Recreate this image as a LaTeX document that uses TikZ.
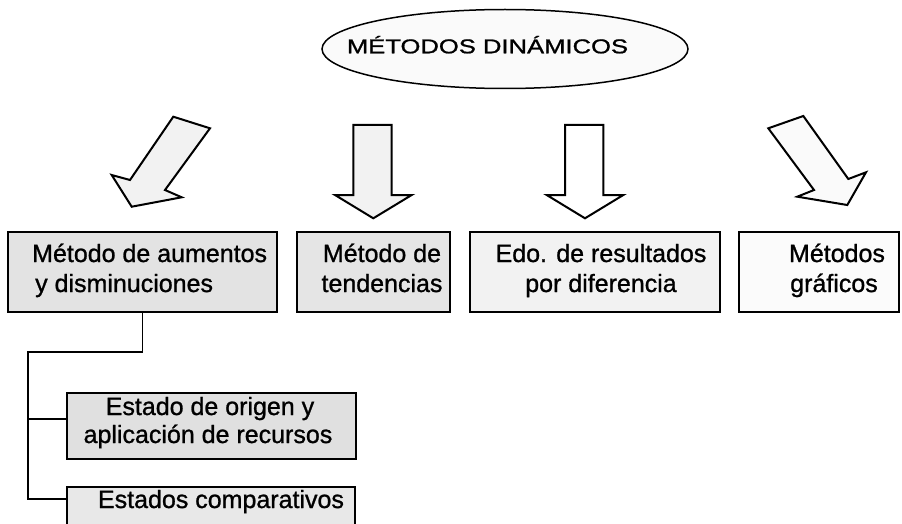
\documentclass[tikz,border=0pt]{standalone}
\usepackage{fontspec}
\setmainfont{Liberation Sans}[FakeBold=1]
\newfontfamily\heavyfont{Liberation Sans}[FakeBold=1]
\usetikzlibrary{shapes.geometric}
\begin{document}
\begin{tikzpicture}[x=1pt,y=-1pt,
  box/.style={draw, line width=1.8pt, rectangle, inner sep=0pt},
  txt/.style={font=\heavyfont\fontsize{25}{30}\selectfont, inner sep=0pt, anchor=base},
  conn/.style={line width=1.8pt, line join=miter},
  barrow/.style={draw, line width=2pt, line join=miter}]
\useasboundingbox (0,0) rectangle (902,524);
\clip (0,0) rectangle (902,524);
% title
\node[draw, ellipse, line width=1.5pt, fill=gray!4, minimum width=366pt, minimum height=79pt, inner sep=0pt] (ell) at (505,49) {};
\node[anchor=base, inner sep=0pt, font=\heavyfont\fontsize{20}{24}\selectfont] (title) at (487.5,53.3) {\scalebox{1.28}[1]{MÉTODOS DINÁMICOS}};
% block arrows
\path[barrow, fill=gray!10] (173.3,116.7) -- (210,128.3) -- (165,190) -- (181.7,197.3) -- (131.7,206.7) -- (111.7,175) -- (130,180) -- cycle;
\path[barrow, fill=gray!10] (353.3,125) -- (391.7,125) -- (391.7,195) -- (411.7,195) -- (373.3,218.3) -- (335,195) -- (353.3,195) -- cycle;
\path[barrow, fill=white] (565,125) -- (603.3,125) -- (603.3,195) -- (623.3,195) -- (585,218.3) -- (546.7,195) -- (565,195) -- cycle;
\path[barrow, fill=gray!4] (768.3,128.3) -- (803.3,116) -- (848.3,179) -- (866,172.3) -- (847.3,205) -- (797.3,196.7) -- (814,190) -- cycle;
% boxes
\node[box, fill=gray!22, minimum width=269pt, minimum height=80pt] (b1) at (142.5,272) {};
\node[box, fill=gray!20, minimum width=153pt, minimum height=80pt] (b2) at (373.5,272) {};
\node[box, fill=gray!10, minimum width=250pt, minimum height=80pt] (b3) at (595,272) {};
\node[box, fill=gray!3, minimum width=160pt, minimum height=80pt] (b4) at (819,272) {};
\node[box, fill=gray!24, minimum width=289pt, minimum height=66pt] (b5) at (211.5,426) {};
\node[box, fill=gray!18, minimum width=288pt, minimum height=53pt] (b6) at (211,513.5) {};
% texts
\node[txt, anchor=base west] (t1a) at (32,262) {Método de aumentos};
\node[txt, anchor=base west] (t1b) at (35,292) {y disminuciones};
\node[txt] (t2a) at (382,262) {Método de};
\node[txt] (t2b) at (382,292) {tendencias};
\node[txt] (t3a) at (601,262) {Edo. de resultados};
\node[txt] (t3b) at (601,292) {por diferencia};
\node[txt] (t4a) at (837,262) {Métodos};
\node[txt] (t4b) at (834,292) {gráficos};
\node[txt] (t5a) at (210,415) {Estado de origen y};
\node[txt] (t5b) at (208,443) {aplicación de recursos};
\node[txt] (t6) at (221,508) {Estados comparativos};
% connectors
\coordinate (j1) at (28,352);
\coordinate (k5) at (28,419);
\coordinate (k6) at (28,499);
\draw[conn] (b1.south) |- (j1) -- (k6) -- (k6 -| b6.west);
\draw[conn] (k5) -- (k5 -| b5.west);
\end{tikzpicture}
\end{document}
